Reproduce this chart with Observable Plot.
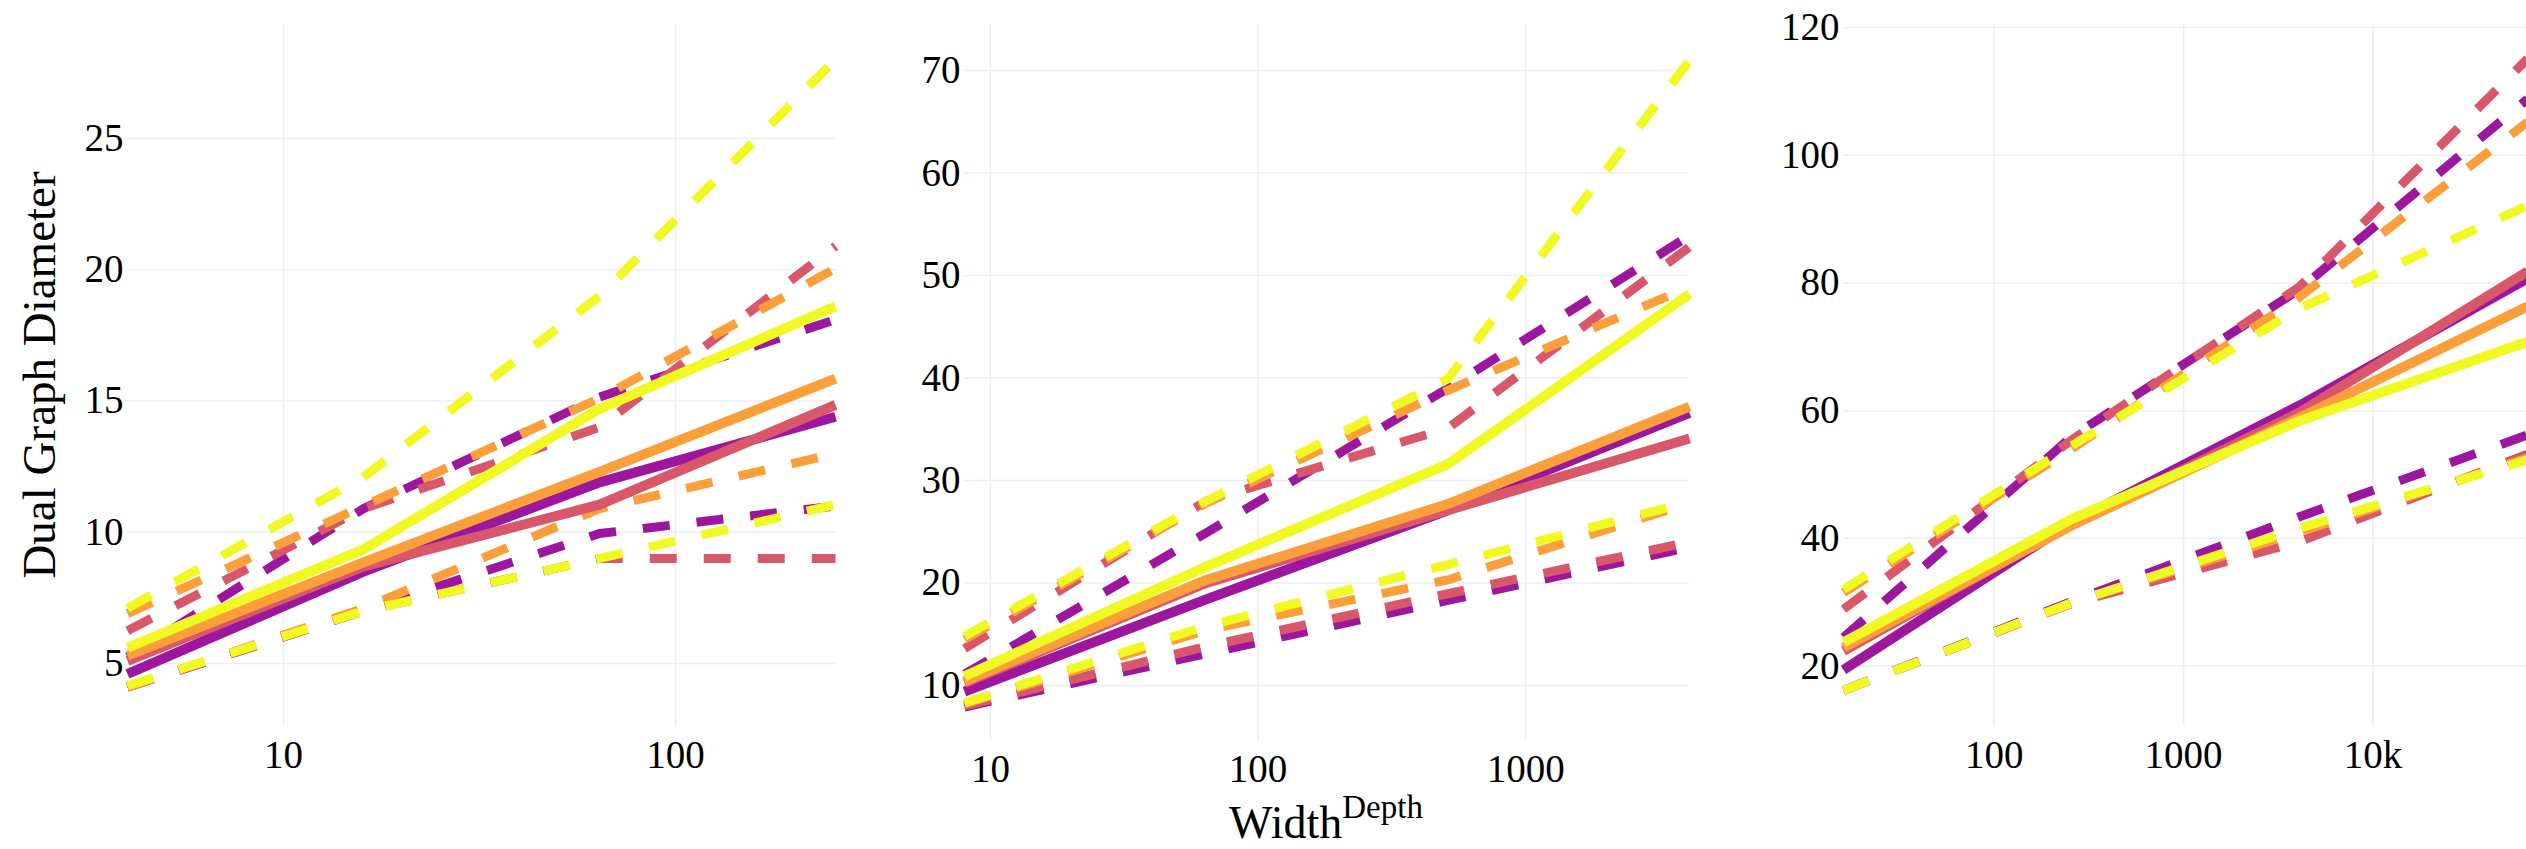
<!DOCTYPE html>
<html>
<head>
<meta charset="utf-8">
<script src="https://cdn.jsdelivr.net/npm/d3@7"></script>
<script src="https://cdn.jsdelivr.net/npm/@observablehq/plot@0.6"></script>
<style>
  html, body { margin: 0; padding: 0; background: #fff; overflow: hidden; }
  #page { position: relative; width: 2526px; height: 849px; overflow: hidden; background: #fff; }
  .panel { position: absolute; top: 0; max-width: none !important; }
  .panel text { font-size: 39px !important; font-family: 'Liberation Serif', 'Times New Roman', Times, serif !important; fill: #000; }
  #titles { position: absolute; left: 0; top: 0; pointer-events: none; }
</style>
</head>
<body>
<div id="page"></div>
<script>
// ---- Data (rows in order: purple, pink, orange, yellow series) ----
const seriesColors = ["#9c179e", "#d8576b", "#fb9f3a", "#f0f921"];

// Panel 1 (width 4)
const p1X = [4, 16, 64, 256];
const p1Mean  = [[4.6, 8.5, 11.9, 14.4], [5.1, 8.7, 11.05, 14.85], [5.3, 8.85, 12.3, 15.85], [5.6, 9.35, 14.7, 18.6]];
const p1Upper = [[5.25, 10.9, 15.15, 18.1], [6.25, 10.9, 14.0, 20.9], [6.9, 11.0, 15.1, 20.05], [7.1, 12.1, 19.0, 28.0]];
const p1Lower = [[4.1, 7.0, 9.95, 11.0], [4.1, 7.0, 9.0, 9.0], [4.1, 7.1, 10.9, 13.0], [4.15, 7.0, 9.0, 11.05]];
const p1XTicks = [10, 100];
const p1YTicks = [5, 10, 15, 20, 25];

// Panel 2 (width 8)
const p2X = [8, 64, 512, 4096];
const p2Mean  = [[9.4, 18.4, 27.1, 36.6], [10.25, 20.0, 27.1, 34.1], [10.4, 20.3, 27.7, 37.2], [10.9, 21.6, 31.6, 48.2]];
const p2Upper = [[11.1, 24.9, 39.0, 53.9], [13.6, 28.0, 35.1, 52.8], [14.5, 27.8, 38.8, 48.9], [14.8, 28.0, 39.9, 71.0]];
const p2Lower = [[7.9, 13.1, 18.3, 23.5], [8.0, 13.8, 18.95, 24.0], [8.2, 15.4, 20.3, 27.8], [8.3, 15.8, 21.8, 27.9]];
const p2XTicks = [10, 100, 1000];
const p2YTicks = [10, 20, 30, 40, 50, 60, 70];

// Panel 3 (width 16)
const p3X = [16, 256, 4096, 65536];
const p3Mean  = [[19.4, 42.5, 60.8, 80.7], [22.4, 42.2, 59.7, 81.8], [22.9, 42.0, 58.9, 76.3], [23.7, 43.0, 58.4, 70.8]];
const p3Upper = [[24.5, 55.9, 79.0, 108.8], [28.9, 55.4, 79.4, 115.1], [31.5, 54.0, 77.8, 105.2], [32.0, 54.5, 76.0, 92.1]];
const p3Lower = [[16.2, 30.1, 43.4, 56.2], [16.2, 29.8, 39.5, 53.2], [16.2, 29.9, 41.0, 52.6], [16.2, 29.9, 41.6, 52.3]];
const p3XTicks = [100, 1000, 10000];
const p3YTicks = [20, 40, 60, 80, 100, 120];

const yTitle = "Dual Graph Diameter";
const xTitleMain = "Width";
const xTitleSup = "Depth";

// ---- Drawing ----
const FONT = "'Liberation Serif', 'Times New Roman', Times, serif";
const gridColor = "#ebeef5";
const fmt = d => d >= 10000 ? (d / 1000) + "k" : String(d);

function panel(cfg) {
  const marks = [
    Plot.ruleY(cfg.yTicks, {stroke: gridColor, strokeWidth: 1.5}),
    Plot.ruleX(cfg.xTicks, {stroke: gridColor, strokeWidth: 1.5})
  ];
  const groups = [[cfg.lower, true], [cfg.upper, true], [cfg.mean, false]];
  for (const [rows, dashed] of groups) {
    rows.forEach((vals, i) => {
      const data = cfg.x.map((x, j) => ({x, y: vals[j]}));
      const opts = {x: "x", y: "y", stroke: seriesColors[i], strokeWidth: dashed ? 9 : 10,
                    strokeLinejoin: "round", strokeLinecap: "butt"};
      if (dashed) opts.strokeDasharray = "27,27";
      marks.push(Plot.line(data, opts));
    });
  }
  const svg = Plot.plot({
    width: cfg.width, height: cfg.height,
    marginLeft: cfg.ml, marginRight: cfg.mr, marginTop: cfg.mt, marginBottom: cfg.mb,
    style: {fontFamily: FONT, fontSize: "39px", color: "#000", background: "transparent", overflow: "visible"},
    x: {type: "log", domain: cfg.xDomain, ticks: cfg.xTicks, tickFormat: fmt, tickSize: 0, tickPadding: 14, label: null},
    y: {domain: cfg.yDomain, ticks: cfg.yTicks, tickSize: 0, tickPadding: 4, label: null},
    marks
  });
  svg.classList.add("panel");
  svg.style.left = cfg.left + "px";
  svg.style.position = "absolute";
  svg.style.top = "0px";
  return svg;
}

const page = document.getElementById("page");
page.appendChild(panel({left: 0, width: 840, height: 810, ml: 127, mr: 5, mt: 24, mb: 84,
  x: p1X, mean: p1Mean, upper: p1Upper, lower: p1Lower, xTicks: p1XTicks, yTicks: p1YTicks,
  xDomain: [4, 256], yDomain: [2.6, 29.34]}));
page.appendChild(panel({left: 840, width: 854, height: 810, ml: 124, mr: 5, mt: 24, mb: 70,
  x: p2X, mean: p2Mean, upper: p2Upper, lower: p2Lower, xTicks: p2XTicks, yTicks: p2YTicks,
  xDomain: [8, 4096], yDomain: [4.63, 74.5]}));
page.appendChild(panel({left: 1700, width: 832, height: 810, ml: 143, mr: 5, mt: 24, mb: 84,
  x: p3X, mean: p3Mean, upper: p3Upper, lower: p3Lower, xTicks: p3XTicks, yTicks: p3YTicks,
  xDomain: [16, 65536], yDomain: [10.54, 120.47]}));

// Titles overlay
const NS = "http://www.w3.org/2000/svg";
const ov = document.createElementNS(NS, "svg");
ov.setAttribute("id", "titles");
ov.setAttribute("width", 2526);
ov.setAttribute("height", 849);
ov.style.fontFamily = FONT;
const yt = document.createElementNS(NS, "text");
yt.setAttribute("transform", "translate(55,375) rotate(-90)");
yt.setAttribute("text-anchor", "middle");
yt.setAttribute("font-size", "47");
yt.textContent = yTitle;
ov.appendChild(yt);
const xt = document.createElementNS(NS, "text");
xt.setAttribute("x", 1326);
xt.setAttribute("y", 838);
xt.setAttribute("text-anchor", "middle");
xt.setAttribute("font-size", "46");
xt.appendChild(document.createTextNode(xTitleMain));
const sup = document.createElementNS(NS, "tspan");
sup.setAttribute("font-size", "33");
sup.setAttribute("dy", "-20");
sup.textContent = xTitleSup;
xt.appendChild(sup);
ov.appendChild(xt);
page.appendChild(ov);
</script>
</body>
</html>
